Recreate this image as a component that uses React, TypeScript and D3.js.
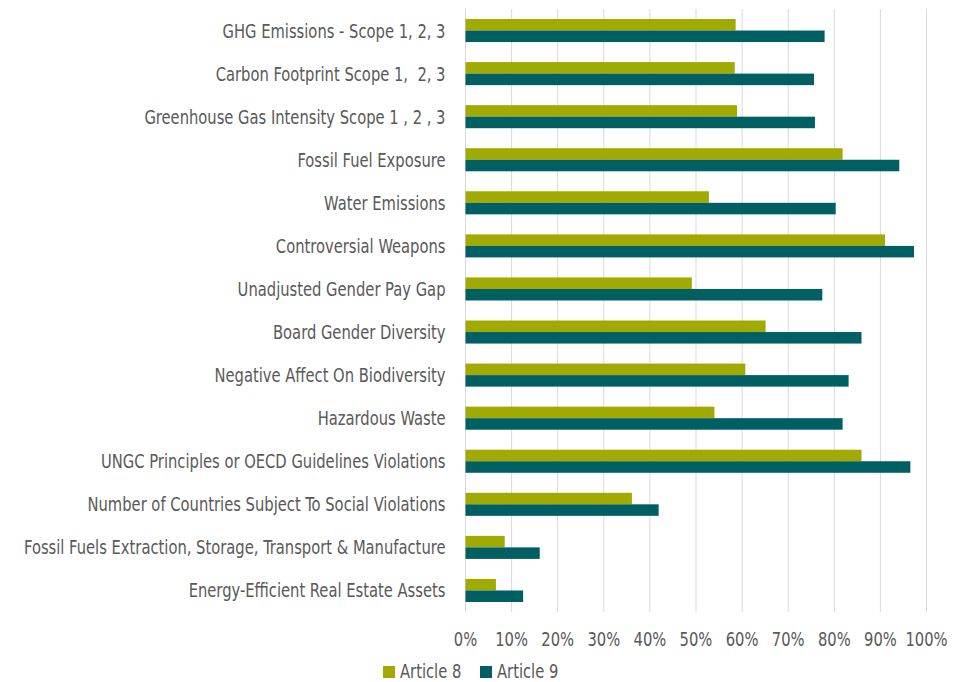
import React from "react";
import * as d3 from "d3";

const categories = [
  "GHG Emissions - Scope 1, 2, 3",
  "Carbon Footprint Scope 1,  2, 3",
  "Greenhouse Gas Intensity Scope 1 , 2 , 3",
  "Fossil Fuel Exposure",
  "Water Emissions",
  "Controversial Weapons",
  "Unadjusted Gender Pay Gap",
  "Board Gender Diversity",
  "Negative Affect On Biodiversity",
  "Hazardous Waste",
  "UNGC Principles or OECD Guidelines Violations",
  "Number of Countries Subject To Social Violations",
  "Fossil Fuels Extraction, Storage, Transport & Manufacture",
  "Energy-Efficient Real Estate Assets",
];
const article8 = [58.6, 58.4, 58.9, 81.8, 52.8, 91.0, 49.1, 65.1, 60.7, 54.0, 85.9, 36.1, 8.5, 6.6];
const article9 = [77.9, 75.6, 75.8, 94.1, 80.3, 97.3, 77.4, 85.9, 83.1, 81.8, 96.5, 41.9, 16.1, 12.5];
const seriesNames = ["Article 8", "Article 9"];
const ticks = [0, 10, 20, 30, 40, 50, 60, 70, 80, 90, 100];

const COLORS = ["#A0AA00", "#005F63"];
const FONT = "'DejaVu Sans Condensed', 'DejaVu Sans', sans-serif";
const TEXT = "#595959";
const FS = 20;
const SX = 0.82;

function T({ x, y, anchor = "start", children }: { x: number; y: number; anchor?: string; children: React.ReactNode }) {
  return (
    <text
      transform={`translate(${x},${y}) scale(${SX},1)`}
      textAnchor={anchor}
      fontFamily={FONT}
      fontSize={FS}
      fontWeight={300}
      fill={TEXT}
      style={{ whiteSpace: "pre" }}
    >
      {children}
    </text>
  );
}

export default function App() {
  const W = 961, H = 682;
  const left = 465.5, right = 926.5, top = 9, bottom = 612;
  const x = d3.scaleLinear().domain([0, 100]).range([left, right]);
  const y = d3.scaleBand<string>().domain(categories).range([top, bottom]).paddingInner(0.465).paddingOuter(0.2325);
  const inner = d3.scaleBand<number>().domain([0, 1]).range([0, y.bandwidth()]);
  const series = [article8, article9];

  return (
    <svg width={W} height={H} style={{ position: "absolute", left: 0, top: 0, background: "#fff" }}>
      {ticks.map((t) => (
        <line key={"g" + t} x1={x(t)} x2={x(t)} y1={top} y2={bottom} stroke="#D9D9D9" strokeWidth={1} />
      ))}
      {categories.map((c, i) => (
        <g key={c}>
          {series.map((s, k) => (
            <rect
              key={k}
              x={x(0)}
              y={(y(c) as number) + (inner(k) as number)}
              width={x(s[i]) - x(0)}
              height={inner.bandwidth()}
              fill={COLORS[k]}
            />
          ))}
          <T x={left - 20} y={(y(c) as number) + y.bandwidth() / 2 + 7} anchor="end">
            {c}
          </T>
        </g>
      ))}
      {ticks.map((t) => (
        <T key={"t" + t} x={x(t)} y={646} anchor="middle">
          {t + "%"}
        </T>
      ))}
      {seriesNames.map((n, k) => {
        const lx = k === 0 ? 383 : 480;
        return (
          <g key={n}>
            <rect x={lx} y={666} width={12} height={12} fill={COLORS[k]} />
            <T x={lx + 17} y={678}>
              {n}
            </T>
          </g>
        );
      })}
    </svg>
  );
}
